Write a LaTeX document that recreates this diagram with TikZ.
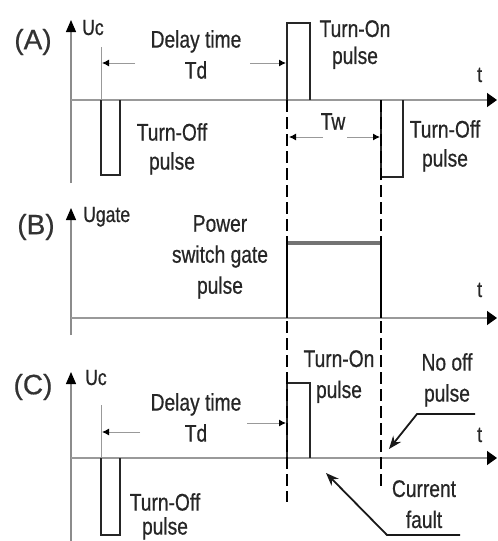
\documentclass[tikz,border=0pt]{standalone}
\usepackage{fontspec}
\setmainfont{Liberation Sans}[FakeStretch=0.8, FakeBold=0.6]
\usetikzlibrary{arrows.meta}
\begin{document}
\begin{tikzpicture}[x=1pt,y=-1pt,
  txt/.style={font=\fontsize{24}{31}\selectfont, align=center, inner sep=0pt, text=black!85, anchor=north},
  axlbl/.style={font=\fontsize{22}{26}\selectfont, inner sep=0pt, text=black!85, anchor=base west},
  panel/.style={font=\fontsize{28}{30}\selectfont\addfontfeature{FakeStretch=1}, inner sep=0pt, text=black!80},
  yaxis/.style={draw=black!45, line width=1.1pt, -{Triangle[color=black, length=12pt, width=10pt]}},
  xaxis/.style={draw=black!40, line width=1.5pt, -{Triangle[color=black, length=10pt, width=14pt]}},
  thin/.style={draw=black!40, line width=1pt},
  pulseline/.style={draw=black!85, line width=1.6pt},
  dashv/.style={draw=black, line width=2.8pt, dash pattern=on 12pt off 5pt},
  solidv/.style={draw=black, line width=2.8pt},
  gate/.style={draw=black!55, line width=4pt},
  dim/.style={draw=black!40, line width=1pt, -{Latex[color=black, length=7pt, width=7pt]}},
  callout/.style={draw=black!90, line width=1.8pt, line join=miter, -{Stealth[length=13pt, width=10pt]}}
]
\useasboundingbox (0,0) rectangle (498,541);

% ---------------- Panel A ----------------
\node[panel] (labA) at (33,42) {(A)};
\coordinate (yA0) at (71,183); \coordinate (yA1) at (71,20);
\draw[yaxis] (yA0) -- (yA1);
\node[axlbl] (ucA) at (82,35) {Uc};
\coordinate (xA0) at (71,100); \coordinate (xA1) at (497,100);
\draw[xaxis] (xA0) -- (xA1);
\node[axlbl] (tA) at (477,82) {t};

\coordinate (refA0) at (101,47); \coordinate (refA1) at (101,100);
\draw[thin] (refA0) -- (refA1);
\node[txt] (delayA) at (196,30) {Delay time\\Td};
\coordinate (dAl0) at (135,63); \coordinate (dAl1) at (102,63);
\coordinate (dAr0) at (250,63); \coordinate (dAr1) at (286,63);
\draw[dim] (dAl0) -- (dAl1);
\draw[dim] (dAr0) -- (dAr1);

% turn-off pulse A1
\coordinate (pA1a) at (101,100); \coordinate (pA1b) at (101,175);
\coordinate (pA1c) at (120,175); \coordinate (pA1d) at (120,100);
\draw[pulseline] (pA1a) -- (pA1b) -- (pA1c) -- (pA1d);
\node[txt] (offA1) at (172,123) {Turn-Off\\[-2pt]pulse};

% turn-on pulse A
\coordinate (onAa) at (287,100); \coordinate (onAb) at (287,23);
\coordinate (onAc) at (310,23); \coordinate (onAd) at (310,100);
\draw[pulseline] (onAa) -- (onAb) -- (onAc) -- (onAd);
\node[txt] (onA) at (355,20) {Turn-On\\[-4pt]pulse};

% turn-off pulse A2
\coordinate (pA2a) at (381,100); \coordinate (pA2b) at (381,177);
\coordinate (pA2c) at (403,177); \coordinate (pA2d) at (403,100);
\draw[pulseline] (pA2a) -- (pA2b) -- (pA2c) -- (pA2d);
\node[txt] (offA2) at (445,120) {Turn-Off\\[-2pt]pulse};

% Tw
\node[txt] (tw) at (333,113) {Tw};
\coordinate (twl0) at (323,137); \coordinate (twl1) at (289,137);
\coordinate (twr0) at (347,137); \coordinate (twr1) at (380,137);
\draw[dim] (twl0) -- (twl1);
\draw[dim] (twr0) -- (twr1);

% ---------------- Panel B ----------------
\node[panel] (labB) at (36,227) {(B)};
\coordinate (yB0) at (71,335); \coordinate (yB1) at (71,208);
\draw[yaxis] (yB0) -- (yB1);
\node[axlbl] (ugB) at (83,222) {Ugate};
\coordinate (xB0) at (71,318); \coordinate (xB1) at (497,318);
\draw[xaxis] (xB0) -- (xB1);
\node[axlbl] (tB) at (477,297) {t};
\node[txt] (gateTxt) at (220,215) {Power\\switch gate\\pulse};

\coordinate (gA) at (287,243); \coordinate (gB) at (381,243);
\draw[gate] (gA) -- (gB);

% ---------------- Panel C ----------------
\node[panel] (labC) at (33,387) {(C)};
\coordinate (yC0) at (71,541); \coordinate (yC1) at (71,372);
\draw[yaxis] (yC0) -- (yC1);
\node[axlbl] (ucC) at (85,385) {Uc};
\coordinate (xC0) at (71,458); \coordinate (xC1) at (497,458);
\draw[xaxis] (xC0) -- (xC1);
\node[axlbl] (tC) at (477,442) {t};

\coordinate (refC0) at (101,405); \coordinate (refC1) at (101,458);
\draw[thin] (refC0) -- (refC1);
\node[txt] (delayC) at (196,393) {Delay time\\Td};
\coordinate (dCl0) at (140,432); \coordinate (dCl1) at (102,432);
\coordinate (dCr0) at (247,423); \coordinate (dCr1) at (286,423);
\draw[dim] (dCl0) -- (dCl1);
\draw[dim] (dCr0) -- (dCr1);

\coordinate (pCa) at (101,458); \coordinate (pCb) at (101,535);
\coordinate (pCc) at (120,535); \coordinate (pCd) at (120,458);
\draw[pulseline] (pCa) -- (pCb) -- (pCc) -- (pCd);
\node[txt] (offC) at (165,493) {Turn-Off\\[-7pt]pulse};

\coordinate (onCa) at (287,458); \coordinate (onCb) at (287,383);
\coordinate (onCc) at (310,383); \coordinate (onCd) at (310,458);
\draw[pulseline] (onCa) -- (onCb) -- (onCc) -- (onCd);
\node[txt] (onC) at (339,350) {Turn-On\\pulse};

\node[txt] (nooff) at (447,353) {No off\\pulse};
\coordinate (no0) at (475,414); \coordinate (no1) at (417,414); \coordinate (no2) at (389,449);
\draw[callout] (no0) -- (no1) -- (no2);

\node[txt] (cf) at (424,480) {Current\\fault};
\coordinate (cf0) at (460,535); \coordinate (cf1) at (387,535); \coordinate (cf2) at (326,473);
\draw[callout] (cf0) -- (cf1) -- (cf2);

% ---------------- vertical time markers ----------------
\coordinate (m1top) at (287,100); \coordinate (m1bot) at (287,502);
\coordinate (m2top) at (381,100); \coordinate (m2bot) at (381,490);
\draw[dashv] (m1top) -- (m1bot);
\draw[dashv] (m2top) -- (m2bot);
\coordinate (s1a) at (287,243); \coordinate (s1b) at (287,318);
\coordinate (s2a) at (381,243); \coordinate (s2b) at (381,318);
\draw[solidv] (s1a) -- (s1b);
\draw[solidv] (s2a) -- (s2b);
\end{tikzpicture}
\end{document}
